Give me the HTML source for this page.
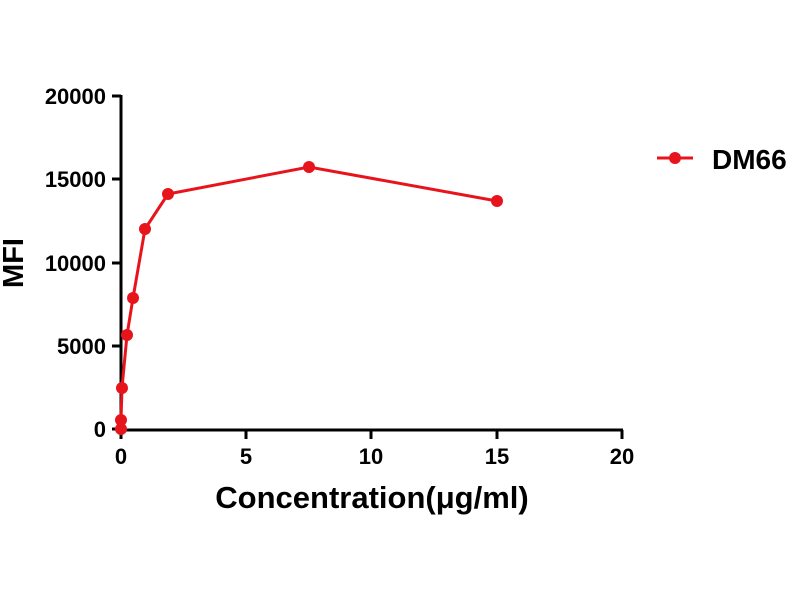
<!DOCTYPE html>
<html><head><style>body{margin:0;background:#fff}</style></head><body>
<svg width="800" height="600" xmlns="http://www.w3.org/2000/svg" font-family="Liberation Sans, Arial, sans-serif" font-weight="bold">
<rect width="800" height="600" fill="#fff"/>
<g stroke="#000" stroke-width="3" fill="none">
<line x1="121" y1="95" x2="121" y2="430"/>
<line x1="120" y1="430" x2="623" y2="430"/>
<line x1="112" y1="96" x2="121" y2="96"/>
<line x1="112" y1="179" x2="121" y2="179"/>
<line x1="112" y1="263" x2="121" y2="263"/>
<line x1="112" y1="346" x2="121" y2="346"/>
<line x1="112" y1="429" x2="121" y2="429"/>
<line x1="121" y1="430" x2="121" y2="439"/>
<line x1="246" y1="430" x2="246" y2="439"/>
<line x1="371" y1="430" x2="371" y2="439"/>
<line x1="497" y1="430" x2="497" y2="439"/>
<line x1="622" y1="430" x2="622" y2="439"/>
</g>
<g font-size="22" text-anchor="end">
<text x="106" y="104">20000</text>
<text x="106" y="187">15000</text>
<text x="106" y="271">10000</text>
<text x="106" y="354">5000</text>
<text x="106" y="437">0</text>
</g>
<g font-size="22" text-anchor="middle">
<text x="121" y="464">0</text>
<text x="246" y="464">5</text>
<text x="371" y="464">10</text>
<text x="497" y="464">15</text>
<text x="622" y="464">20</text>
</g>
<text x="372" y="508" font-size="31" text-anchor="middle">Concentration(μg/ml)</text>
<text transform="translate(23,263) rotate(-90)" font-size="29" text-anchor="middle">MFI</text>
<polyline fill="none" stroke="#e8141c" stroke-width="3" points="121,429 121,420 122,388 127,335 133,298 145,229 168,194 309,167 497,201"/>
<g fill="#e8141c">
<circle cx="121" cy="429" r="6"/><circle cx="121" cy="420" r="6"/><circle cx="122" cy="388" r="6"/>
<circle cx="127" cy="335" r="6"/><circle cx="133" cy="298" r="6"/><circle cx="145" cy="229" r="6"/>
<circle cx="168" cy="194" r="6"/><circle cx="309" cy="167" r="6"/><circle cx="497" cy="201" r="6"/>
<circle cx="675" cy="158" r="6"/>
</g>
<line x1="657" y1="158" x2="693" y2="158" stroke="#e8141c" stroke-width="3"/>
<text x="712" y="169" font-size="28">DM66</text>
</svg>
</body></html>
